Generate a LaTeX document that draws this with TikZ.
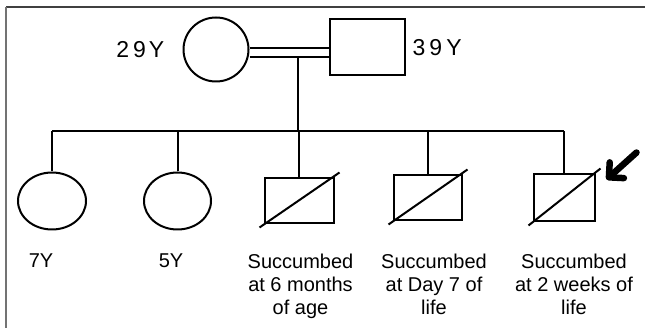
\documentclass[tikz,border=0pt]{standalone}
\usepackage{fontspec}
\setmainfont{Liberation Sans}
\usetikzlibrary{shapes.geometric,positioning,arrows.meta}

\tikzset{
  female/.style={ellipse,draw,line width=2pt,inner sep=0pt},
  male/.style={rectangle,draw,line width=2pt,inner sep=0pt},
  line/.style={line width=2pt},
  age/.style={font=\fontsize{23}{26}\selectfont,inner sep=0pt},
  caption/.style={font=\fontsize{20}{23.3}\selectfont,align=center,anchor=north,inner sep=0pt},
  proband/.style={line width=6.5pt,line cap=round,-{Straight Barb[angle=90:15pt,round]}}
}

\begin{document}
\begin{tikzpicture}[x=1pt,y=-1pt]
  \useasboundingbox (0,0) rectangle (645,328);

  % frame
  \draw[black!75,line width=1.5pt] (6,7) -- (645,7);
  \draw[black!55,line width=1.5pt] (6,7) -- (6,328);

  \begin{scope}[every node/.style={female}]
    \node[minimum width=65pt,minimum height=64pt] (mother) at (216,49.5) {};
    \node[minimum width=68pt,minimum height=57pt] (c1)     at (52,201)   {};
    \node[minimum width=67pt,minimum height=57pt] (c2)     at (177.5,201) {};
  \end{scope}

  \begin{scope}[every node/.style={male}]
    \node[minimum width=75pt,minimum height=56pt] (father) at (367,47.5) {};
    \node[minimum width=69pt,minimum height=45pt] (c3)     at (299,201)  {};
    \node[minimum width=68pt,minimum height=45pt] (c4)     at (427.5,198) {};
    \node[minimum width=61pt,minimum height=47pt] (c5)     at (564,198)  {};
  \end{scope}

  \coordinate (mate) at (298,57);
  \coordinate (sib)  at (298,131);

  % consanguineous mating line
  \draw[line] ([yshift=1.5pt]mother.east) -- ([yshift=1.5pt]mother.east -| father.west);
  \draw[line] ([yshift=-7.5pt]mother.east) -- ([yshift=-7.5pt]mother.east -| father.west);

  % sibship
  \draw[line] (mate) -- (sib);
  \draw[line] (c1.north |- sib) -- (c5.north |- sib);
  \foreach \c in {c1,c2,c3,c4,c5}
    \draw[line] (\c.north |- sib) -- (\c.north);

  % deceased
  \foreach \c in {c3,c4,c5}
    \draw[line] ([shift={(-4pt,-3pt)}]\c.south west) -- ([shift={(5pt,5pt)}]\c.north east);

  \draw[proband] ([shift={(41pt,21pt)}]c5.north east) -- ([shift={(11pt,-6pt)}]c5.north east);

  % ages
  \node[age,left=18pt of mother] (agem) {2\kern4pt9\kern3pt Y};
  \node[age,right=7pt of father] (agef) {3\kern4pt9\kern4pt Y};

  \node[caption] (l1) at (41,253.5)  {7Y};
  \node[caption] (l2) at (171,253.5) {5Y};
  \node[caption] (l3) at (300.5,253.5) {Succumbed\\at 6 months\\of age};
  \node[caption] (l4) at (434,253.5) {Succumbed\\at Day 7 of\\life};
  \node[caption] (l5) at (574,253.5) {Succumbed\\at 2 weeks of\\life};

\end{tikzpicture}
\end{document}
